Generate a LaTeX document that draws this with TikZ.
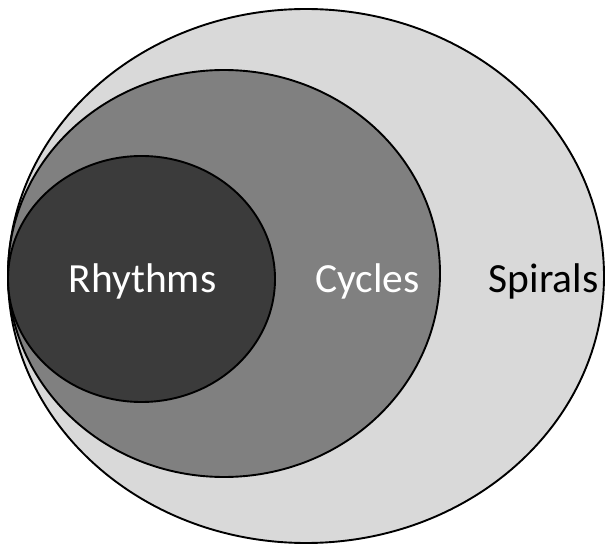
\documentclass[tikz,border=0pt]{standalone}
\usepackage{fontspec}
\setmainfont{Carlito}
\usetikzlibrary{shapes.geometric}
\definecolor{outerfill}{HTML}{D9D9D9}
\definecolor{midfill}{HTML}{808080}
\definecolor{innerfill}{HTML}{3B3B3B}
\begin{document}
\begin{tikzpicture}[x=1pt,y=-1pt,
  ring/.style={ellipse, draw=black, line width=1.9pt, inner sep=0pt, outer sep=0pt},
  lab/.style={anchor=base, font=\fontsize{41.5}{48}\selectfont, inner sep=0pt}]
\useasboundingbox (0,0) rectangle (605,545);
\node[ring, fill=outerfill, minimum width=596pt, minimum height=534pt] (spirals) at (306,276) {};
\node[ring, fill=midfill, minimum width=432pt, minimum height=407pt] (cycles) at (224,273.5) {};
\node[ring, fill=innerfill, minimum width=267pt, minimum height=246pt] (rhythms) at (141.5,279) {};
\node[lab, text=white] (t1) at (142.5,293) {Rhythms};
\node[lab, text=white] (t2) at (367.5,293) {Cycles};
\node[lab, text=black] (t3) at (543.5,293) {Spirals};
\end{tikzpicture}
\end{document}
